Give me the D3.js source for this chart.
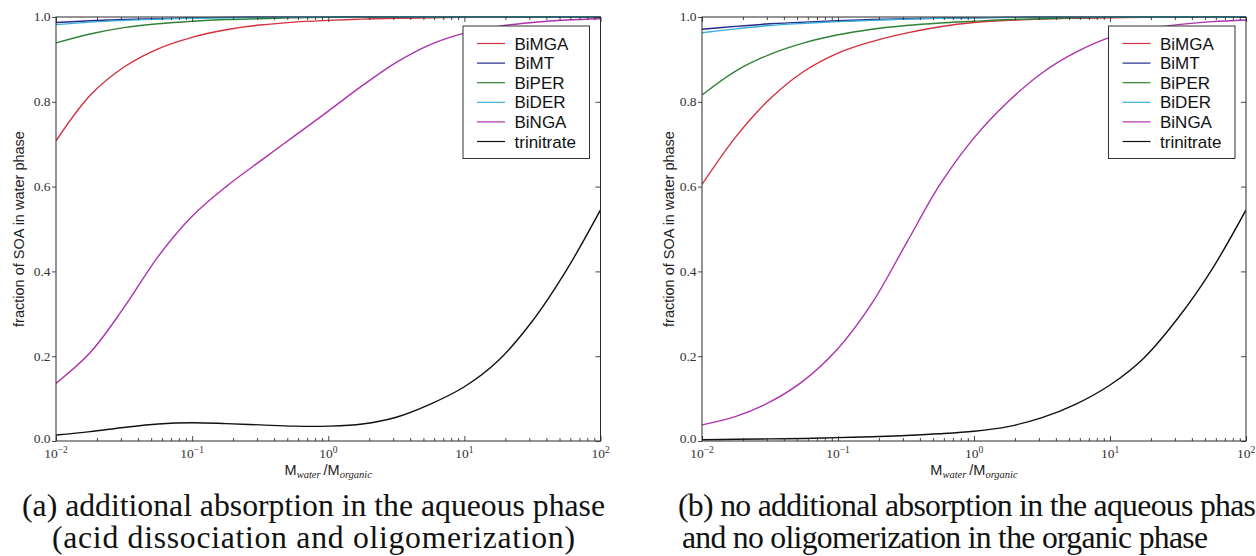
<!DOCTYPE html>
<html>
<head>
<meta charset="utf-8">
<script src="https://cdn.jsdelivr.net/npm/d3@7"></script>
<style>
  html, body { margin: 0; padding: 0; background: #ffffff; }
  svg { display: block; }
</style>
</head>
<body>
<svg id="fig" width="1256" height="556"></svg>
<script>
// Mass ratio M_water / M_organic, quarter-decade sampling
const ratio = [0.01, 0.01778, 0.03162, 0.05623, 0.1, 0.1778, 0.3162, 0.5623, 1,
               1.778, 3.162, 5.623, 10, 17.78, 31.62, 56.23, 100];

const seriesNames = ["BiMGA", "BiMT", "BiPER", "BiDER", "BiNGA", "trinitrate"];

// (a) with acid dissociation and oligomerization in the aqueous phase
const a_BiMGA      = [0.708, 0.815, 0.882, 0.925, 0.952, 0.970, 0.981, 0.988, 0.992, 0.995, 0.997, 0.998, 0.999, 0.9995, 1, 1, 1];
const a_BiMT       = [0.987, 0.991, 0.994, 0.996, 0.998, 0.999, 0.9994, 0.9997, 0.9998, 0.9999, 1, 1, 1, 1, 1, 1, 1];
const a_BiPER      = [0.939, 0.960, 0.975, 0.984, 0.990, 0.994, 0.996, 0.998, 0.999, 0.9995, 0.9997, 0.9998, 0.9999, 1, 1, 1, 1];
const a_BiDER      = [0.982, 0.988, 0.992, 0.995, 0.997, 0.998, 0.999, 0.9994, 0.9997, 0.9998, 0.9999, 1, 1, 1, 1, 1, 1];
const a_BiNGA      = [0.136, 0.208, 0.315, 0.435, 0.530, 0.600, 0.660, 0.719, 0.778, 0.838, 0.893, 0.935, 0.962, 0.978, 0.987, 0.993, 0.996];
const a_trinitrate = [0.014, 0.022, 0.032, 0.040, 0.043, 0.041, 0.038, 0.035, 0.035, 0.040, 0.056, 0.087, 0.128, 0.190, 0.283, 0.403, 0.545];

// (b) without additional aqueous absorption and without organic-phase oligomers
const b_BiMGA      = [0.605, 0.718, 0.807, 0.872, 0.915, 0.942, 0.962, 0.977, 0.987, 0.992, 0.995, 0.997, 0.998, 0.999, 0.9995, 1, 1];
const b_BiMT       = [0.971, 0.978, 0.984, 0.988, 0.991, 0.994, 0.996, 0.997, 0.998, 0.999, 0.9995, 0.9997, 0.9998, 1, 1, 1, 1];
const b_BiPER      = [0.816, 0.873, 0.912, 0.939, 0.958, 0.971, 0.980, 0.986, 0.990, 0.994, 0.996, 0.998, 0.999, 0.9995, 1, 1, 1];
const b_BiDER      = [0.963, 0.972, 0.980, 0.985, 0.989, 0.992, 0.995, 0.997, 0.998, 0.999, 0.9995, 0.9997, 0.9998, 1, 1, 1, 1];
const b_BiNGA      = [0.038, 0.058, 0.092, 0.143, 0.218, 0.325, 0.465, 0.605, 0.715, 0.800, 0.868, 0.917, 0.952, 0.971, 0.982, 0.989, 0.993];
const b_trinitrate = [0.003, 0.004, 0.005, 0.006, 0.008, 0.010, 0.013, 0.017, 0.023, 0.034, 0.055, 0.087, 0.132, 0.196, 0.290, 0.405, 0.545];

const yTicks = [0, 0.2, 0.4, 0.6, 0.8, 1.0];
const xMajorTicks = [0.01, 0.1, 1, 10, 100];
const xTickExponents = ["\u22122", "\u22121", "0", "1", "2"];

const captionsA = ["(a) additional absorption in the aqueous phase",
                   "(acid dissociation and oligomerization)"];
const captionsB = ["(b) no additional absorption in the aqueous phase",
                   "and no oligomerization in the organic phase"];

// ---- styling / layout ----
const seriesColors = ["#d3313d", "#232a8a", "#2f8236", "#3aaed6", "#ad32ad", "#111111"];
const serif = "'Liberation Serif', 'DejaVu Serif', serif";
const sans = "'Liberation Sans', Arial, sans-serif";

const svg = d3.select("#fig");

const panels = [
  { id: "a", left: 56, right: 600.5, top: 17, bottom: 441, ylabX: 18.5,
    series: [a_BiMGA, a_BiMT, a_BiPER, a_BiDER, a_BiNGA, a_trinitrate] },
  { id: "b", left: 702, right: 1246, top: 17, bottom: 441, ylabX: 668.5,
    series: [b_BiMGA, b_BiMT, b_BiPER, b_BiDER, b_BiNGA, b_trinitrate] }
];

const minorTicks = [];
for (let e = -2; e < 2; e++) for (let m = 2; m <= 9; m++) minorTicks.push(m * Math.pow(10, e));

panels.forEach(p => {
  const x = d3.scaleLog().domain([0.01, 100]).range([p.left, p.right]);
  const y = d3.scaleLinear().domain([0, 1]).range([p.bottom, p.top]);
  const g = svg.append("g");

  g.append("clipPath").attr("id", "clip-" + p.id)
    .append("rect").attr("x", p.left).attr("y", p.top - 1)
    .attr("width", p.right - p.left).attr("height", p.bottom - p.top + 2);

  // curves
  const line = d3.line()
    .x((d, i) => x(ratio[i]))
    .y(d => y(d))
    .curve(d3.curveCatmullRom.alpha(0.5));
  const curves = g.append("g").attr("clip-path", `url(#clip-${p.id})`);
  p.series.forEach((vals, k) => {
    curves.append("path")
      .attr("d", line(vals))
      .attr("fill", "none")
      .attr("stroke", seriesColors[k])
      .attr("stroke-width", 1.4);
  });

  // ticks
  const tickStyle = sel => {
    sel.select(".domain").remove();
    sel.selectAll("line").attr("stroke", "#333").attr("stroke-width", 0.9);
    sel.selectAll("text").remove();
  };
  g.append("g").attr("transform", `translate(0,${p.bottom})`)
    .call(d3.axisBottom(x).tickValues(xMajorTicks).tickSize(-5)).call(tickStyle);
  g.append("g").attr("transform", `translate(0,${p.bottom})`)
    .call(d3.axisBottom(x).tickValues(minorTicks).tickSize(-3)).call(tickStyle);
  g.append("g").attr("transform", `translate(0,${p.top})`)
    .call(d3.axisTop(x).tickValues(xMajorTicks).tickSize(-5)).call(tickStyle);
  g.append("g").attr("transform", `translate(0,${p.top})`)
    .call(d3.axisTop(x).tickValues(minorTicks).tickSize(-3)).call(tickStyle);
  g.append("g").attr("transform", `translate(${p.left},0)`)
    .call(d3.axisLeft(y).tickValues(yTicks).tickSize(4)).call(tickStyle);
  g.append("g").attr("transform", `translate(${p.right},0)`)
    .call(d3.axisRight(y).tickValues(yTicks).tickSize(-5)).call(tickStyle);

  // frame
  g.append("rect")
    .attr("x", p.left).attr("y", p.top)
    .attr("width", p.right - p.left).attr("height", p.bottom - p.top)
    .attr("fill", "none").attr("stroke", "#2a2a2a").attr("stroke-width", 1);

  // y tick labels
  g.selectAll(".ylab").data(yTicks).enter().append("text")
    .attr("x", p.left - 5.5)
    .attr("y", d => y(d) - (d === 0 ? 2 : 0))
    .attr("dy", "0.33em")
    .attr("text-anchor", "end")
    .attr("font-family", serif).attr("font-size", 13.5).attr("fill", "#333")
    .text(d3.format(".1f"));

  // x tick labels 10^n
  xMajorTicks.forEach((v, i) => {
    const t = g.append("text")
      .attr("x", x(v)).attr("y", p.bottom + 17)
      .attr("text-anchor", "middle")
      .attr("font-family", serif).attr("font-size", 13.5).attr("fill", "#333");
    t.append("tspan").text("10");
    t.append("tspan").attr("dy", -5).attr("font-size", 9.5).text(xTickExponents[i]);
  });

  // x axis label
  const xl = g.append("text")
    .attr("x", (p.left + p.right) / 2).attr("y", p.bottom + 34)
    .attr("text-anchor", "middle")
    .attr("font-family", sans).attr("font-size", 14.5).attr("fill", "#222");
  xl.append("tspan").text("M");
  xl.append("tspan").attr("dy", 2.5).attr("font-size", 10.5).attr("font-family", serif)
    .attr("font-style", "italic").text("water");
  xl.append("tspan").attr("dy", -2.5).text("\u2009/M");
  xl.append("tspan").attr("dy", 2.5).attr("font-size", 10.5).attr("font-family", serif)
    .attr("font-style", "italic").text("organic");

  // y axis label
  g.append("text")
    .attr("transform", `translate(${p.ylabX},${(p.top + p.bottom) / 2}) rotate(-90)`)
    .attr("text-anchor", "middle").attr("dy", "0.35em")
    .attr("font-family", sans).attr("font-size", 14.5).attr("fill", "#222")
    .text("fraction of SOA in water phase");

  // legend
  const lx = p.right - 137.5, ly = 26;
  const lg = g.append("g");
  lg.append("rect").attr("x", lx).attr("y", ly).attr("width", 126.5).attr("height", 132.5)
    .attr("fill", "#fff").attr("stroke", "#333").attr("stroke-width", 1);
  seriesNames.forEach((name, k) => {
    const cy = ly + 17.5 + k * 19.6;
    lg.append("line").attr("x1", lx + 14).attr("x2", lx + 42).attr("y1", cy).attr("y2", cy)
      .attr("stroke", seriesColors[k]).attr("stroke-width", 1.2);
    lg.append("text").attr("x", lx + 51.5).attr("y", cy).attr("dy", "0.36em")
      .attr("font-family", sans).attr("font-size", 17).attr("fill", "#111")
      .text(name);
  });
});

// captions: font sized from the first line of (a); letter spacing stretched per line
const capBase = 26;
const probe = svg.append("text").attr("font-family", serif).attr("font-size", capBase)
  .text(captionsA[0]);
const capSize = capBase * 583 / probe.node().getComputedTextLength();
probe.attr("font-size", capSize);
function natural(txt) { probe.text(txt); return probe.node().getComputedTextLength(); }
// visible part of (b)'s first line runs to the page edge
const b1Scale = 578 / natural(captionsB[0].slice(0, -1));
const widths = {
  a0: 583, a1: 523, b1: 526,
  b0: natural(captionsB[0]) * b1Scale
};
probe.remove();

function caption(txt, x, yb, anchor, len) {
  svg.append("text").attr("x", x).attr("y", yb).attr("text-anchor", anchor)
    .attr("font-family", serif).attr("font-size", capSize).attr("fill", "#111")
    .attr("textLength", len).attr("lengthAdjust", "spacing")
    .text(txt);
}
caption(captionsA[0], 313.5, 516, "middle", widths.a0);
caption(captionsA[1], 313.5, 548, "middle", widths.a1);
caption(captionsB[0], 678, 516, "start", widths.b0);
caption(captionsB[1], 682, 548, "start", widths.b1);
</script>
</body>
</html>
